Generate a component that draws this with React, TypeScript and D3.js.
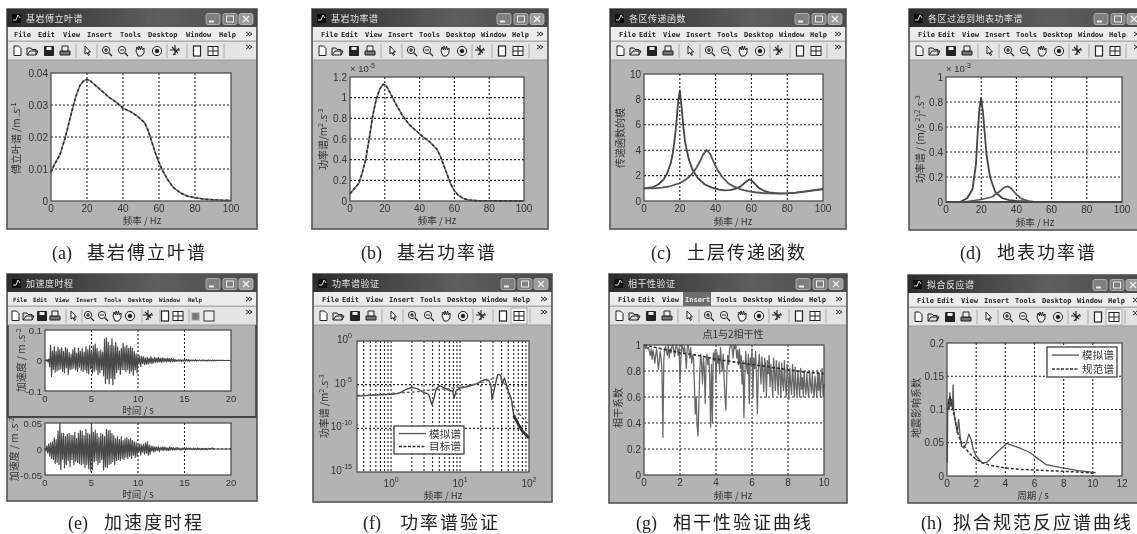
import React from "react";
import * as d3 from "d3";

// ---------- data ----------
const freqA = [0,2,5,8,10,12,14,16,18,20,22,25,28,32,36,40,44,48,52,54,56,58,60,62,65,68,72,76,80,85,90,95,100];
const fourier = [.009,.0115,.0145,.02,.0245,.029,.033,.036,.0375,.038,.0375,.036,.0345,.0325,.031,.029,.028,.0265,.0245,.022,.0185,.015,.012,.0095,.0065,.0042,.0025,.0015,.001,.0006,.0004,.00025,.0002];
const freqB = [0,2,5,7,9,11,13,15,17,19,21,23,26,30,34,38,42,46,50,52,54,56,58,60,62,65,68,72,80,100];
const bedrockPower = [.07,.11,.17,.27,.4,.6,.82,.98,1.08,1.13,1.11,1.05,.95,.83,.74,.68,.62,.57,.5,.43,.34,.25,.16,.1,.06,.025,.01,.004,.002,.001];

const freqC1 = [0,5,8,11,13,15,16,17,18,19,20,21,22,23,25,27,30,34,38,42,45,48,51,54,56,58,59,60,62,64,67,70,75,80,85,90,95,100];
const transfer1 = [1,1.1,1.3,1.7,2.2,3,3.7,4.7,6,7.7,8.7,7.4,5.8,4.6,3.3,2.5,1.8,1.3,1.05,.9,.84,.86,.95,1.15,1.4,1.62,1.7,1.62,1.35,1.05,.8,.68,.6,.6,.66,.76,.86,.95];
const freqC2 = [0,5,10,15,20,24,27,29,31,33,35,37,39,41,44,47,50,54,58,62,66,70,75,80,85,90,95,100];
const transfer2 = [1,1,1.06,1.18,1.4,1.75,2.15,2.55,3.05,3.65,4.02,3.7,3.05,2.45,1.85,1.4,1.15,.92,.78,.69,.63,.6,.58,.6,.66,.74,.84,.92];

const freqD1 = [8,12,15,17,18,19,20,21,22,23,25,28,32,36,40,50];
const surface1 = [0,.03,.1,.3,.55,.75,.83,.72,.55,.38,.2,.08,.03,.015,.008,0];
const freqD2 = [10,20,26,30,33,35,37,40,43,47,50];
const surface2 = [0,.02,.04,.08,.115,.125,.11,.06,.025,.008,.002];
const freqD0 = [0,100];
const surface0 = [0,0];

const accelStep = 0.1;
const accelTop = [
.001,-.002,.003,-.004,.005,-.02,.05,-.052,.032,-.03,
.046,-.038,.03,-.034,.044,-.03,.036,-.028,.042,-.036,
.03,-.04,.042,-.024,.038,-.046,.026,-.03,.02,-.028,
.036,-.025,.042,-.03,.024,-.036,.04,-.022,.03,-.032,
.04,-.036,.028,-.03,.046,-.04,.036,-.044,.05,-.028,
.03,-.042,.048,-.036,.054,-.03,.04,-.046,.03,-.04,
.034,-.03,.028,-.05,.07,-.075,.074,-.06,.06,-.076,
.05,-.058,.072,-.08,.048,-.06,.06,-.04,.044,-.03,
.032,-.046,.04,-.03,.056,-.03,.045,-.036,.05,-.03,
.04,-.042,.046,-.035,.04,-.048,.03,-.03,.022,-.04,
.016,-.012,.015,-.02,.014,-.01,.012,-.014,.008,-.012,
.01,-.012,.008,-.009,.012,-.01,.007,-.008,.01,-.006,
.008,-.006,.01,-.005,.007,-.006,.009,-.005,.008,-.004,
.006,-.005,.008,-.004,.006,-.005,.007,-.003,.006,-.004,
.003,-.003,.002,-.002,.003,-.002,.002,-.003,.002,-.002,
.003,-.002,.004,-.002,.003,-.003,.002,-.001,.002,-.001,
.002,-.001,.003,-.002,.001,-.001,.002,-.001,.001,-.001,
.002,-.001,.001,-.002,.001,-.001,.002,-.001,.001,-.001,
.001,-.001,.002,-.001,.001,-.001,.001,0,.001,0,
.001,0,.001,0,0,0,.001,0,0,0,0];
const accelBottom = [
.002,-.004,.006,-.008,.01,-.014,.012,-.018,.014,-.02,
.022,-.028,.018,-.026,.035,-.03,.05,-.04,.03,-.02,
.03,-.036,.024,-.03,.028,-.022,.03,-.034,.026,-.02,
.026,-.03,.032,-.024,.02,-.026,.03,-.028,.036,-.03,
.034,-.028,.026,-.036,.038,-.03,.03,-.038,.028,-.042,
.046,-.04,.032,-.024,.036,-.022,.03,-.03,.022,-.026,
.03,-.02,.028,-.04,.024,-.034,.038,-.036,.035,-.03,
.036,-.028,.03,-.024,.026,-.03,.02,-.022,.024,-.02,
.018,-.022,.024,-.018,.016,-.02,.02,-.016,.022,-.018,
.018,-.014,.02,-.018,.016,-.012,.014,-.016,.012,-.014,
.008,-.006,.01,-.012,.008,-.006,.009,-.01,.012,-.008,
.014,-.012,.008,-.01,.006,-.004,.005,-.006,.004,-.004,
.004,-.003,.004,-.005,.003,-.002,.004,-.003,.004,-.002,
.003,-.003,.002,-.003,.004,-.002,.003,-.002,.003,-.002,
.002,-.002,.003,-.001,.002,-.002,.001,-.002,.002,-.001,
.003,-.002,.002,-.001,.002,-.001,.002,-.001,.001,-.001,
.002,-.001,.001,-.001,.002,-.001,.001,-.001,.001,-.001,
.001,-.001,.001,-.001,.001,-.001,.001,0,.001,0,
.002,-.001,.001,0,0,0,0,0,0,0,
0,0,0,0,0,0,0,0,0,0,0];

const freqF1 = [.32,.5,.7,1,1.3,1.6,2,2.5,3,3.5,3.9,4.2,4.5,5,6,7,7.8,8.2,8.8,10,13,17,20,24,26,28,29,31,35,37,39,41,44,47,50,55,60,70,80,100];
const simulatedPower = [5e-7,6e-7,7e-7,8e-7,1e-6,2.5e-6,5e-6,3e-6,1.2e-6,8e-7,5e-8,3e-7,3e-6,8e-6,4e-6,2e-6,2e-6,3e-7,2e-6,4e-6,6e-6,1.2e-5,2.5e-5,4e-5,3e-5,1e-5,2e-7,2e-6,1.3e-4,1.5e-4,1e-4,1.2e-5,6e-5,1e-5,2e-6,3e-7,3e-9,3e-10,5e-11,8e-12];
const freqF3 = [60,70,80,100];
const simulatedTail = [3e-9,3e-10,5e-11,8e-12];
const freqF2 = [.32,.6,1,2,3,5,7,10,15,20,25,30,35,40,45,50,60,75,100];
const targetPower = [6e-7,7e-7,1e-6,1.4e-6,2e-6,3e-6,3.5e-6,5e-6,1e-5,1.6e-5,3e-5,5e-5,6e-5,4e-5,1e-5,1e-6,4e-8,3e-9,2.5e-10];

const cohStep = 0.05;
const coherence = [
1,.99,.97,.99,.97,.98,.95,.92,.97,.89,
.96,.92,.86,.92,.97,.9,.81,.88,.95,.9,
.8,.29,.88,.97,.99,.95,.92,1,.9,.97,
.94,.99,1,.96,.91,.98,1,.97,.92,.98,
.72,.9,1,.98,.94,.99,.93,.82,.97,1,
.96,.9,.98,.86,.92,.9,.7,.47,.6,.38,
.3,.55,.8,.93,.86,.7,.9,.82,.55,.88,
.93,.85,.9,.76,.37,.85,.4,.94,.88,.96,
.72,.95,.86,.92,.78,.98,.88,.8,.93,.75,
.6,.5,.78,.92,.85,.96,1,1,.97,.9,
1,.97,1,.9,.96,.85,.97,.82,.92,.7,
.88,.44,.75,.95,.84,.78,.93,.55,.9,.84,
.97,.6,.9,.82,.95,.75,.47,.8,.93,.85,
.7,.91,.8,.64,.9,.85,.6,.88,.78,.92,
.68,.85,.75,.6,.9,.8,.65,.88,.75,.62,
.87,.78,.6,.86,.72,.65,.88,.7,.6,.85,
.75,.58,.82,.7,.62,.85,.72,.6,.83,.68,
.6,.8,.7,.6,.82,.66,.75,.6,.8,.68,
.62,.78,.66,.6,.8,.7,.63,.78,.65,.6,
.76,.68,.6,.8,.65,.78,.6,.72,.82,.6,.7];
const freqG2 = [0,1,2,3,4,5,6,7,8,9,10];
const targetCoh = [1,.97,.94,.92,.89,.87,.85,.83,.81,.79,.78];

const periodH1 = [.02,.05,.1,.15,.2,.25,.3,.38,.42,.46,.55,.7,.8,.9,1,1.15,1.3,1.5,1.65,1.8,2,2.4,2.7,3.4,4.1,5,5.7,6.8,8,9,10.2];
const simulatedResp = [.02,.1,.115,.1,.125,.105,.115,.1,.137,.1,.085,.065,.085,.06,.045,.042,.048,.063,.055,.04,.03,.02,.02,.035,.049,.042,.035,.017,.012,.008,.005];
const periodH2 = [.05,.2,.4,.6,.8,1,1.5,2,2.5,3,4,5,6,7,8,9,10.2];
const codeResp = [.1,.12,.1,.08,.06,.05,.035,.025,.019,.016,.012,.01,.009,.008,.007,.006,.004];

const ticksFreq100 = [0,20,40,60,80,100];
const ticksTime = [0,5,10,15,20];
const ticksFreq10 = [0,2,4,6,8,10];
const ticksPeriod = [0,2,4,6,8,10,12];
const ticksA = [0,.01,.02,.03,.04];
const ticksB = [0,.2,.4,.6,.8,1,1.2];
const ticksC = [0,2,4,6,8,10];
const ticksD = [0,.2,.4,.6,.8,1];
const ticksG = [0,.2,.4,.6,.8,1];
const ticksH = [0,.05,.1,.15,.2];
const ticksETop = [-.1,0,.1];
const ticksEBottom = [-.05,0,.05];
const decadesX = [0,1,2];
const decadesY = [0,-5,-10,-15];

const menuItems = ["File","Edit","View","Insert","Tools","Desktop","Window","Help"];

// ---------- styles ----------
const SANS = "'Liberation Sans', Arial, sans-serif";
const CJK = "'Noto Sans CJK SC', sans-serif";
const INK = "#333";
const seq = (vals: number[], step: number) => vals.map((_, i) => i * step);

type Series = { x: number[]; y: number[]; stroke: string; w: number; dash?: string };

const solid = (x: number[], y: number[], stroke = "#555", w = 1.5): Series => ({ x, y, stroke, w });
const dashed = (x: number[], y: number[], stroke = "#2e2e2e", w = 1.5): Series => ({ x, y, stroke, w, dash: "3 2" });

function Axes(p: {
  box: [number, number, number, number];
  xd: [number, number]; yd: [number, number];
  xt: number[]; yt: number[]; series: Series[];
  log?: boolean; tickSize?: number;
}) {
  const [l, t, r, b] = p.box;
  const x = p.log ? d3.scaleLog().domain(p.xd).range([l, r]) : d3.scaleLinear().domain(p.xd).range([l, r]);
  const y = p.log ? d3.scaleLog().domain(p.yd).range([b, t]) : d3.scaleLinear().domain(p.yd).range([b, t]);
  const fs = p.tickSize ?? 10;
  const xMinor: number[] = [];
  if (p.log) {
    for (const dec of [-1, 0, 1]) for (let m = 1; m <= 9; m++) {
      const v = m * 10 ** dec;
      if (v >= p.xd[0] && v < p.xd[1]) xMinor.push(v);
    }
  }
  const xs = p.log ? xMinor : p.xt;
  return (
    <g>
      <rect x={l} y={t} width={r - l} height={b - t} fill="#fff" />
      {xs.map((v, i) => (x(v) > l + 1 && x(v) < r - 1) ? (
        <line key={"gx" + i} x1={x(v)} x2={x(v)} y1={t} y2={b} stroke="#222" strokeWidth={1.1} strokeDasharray="2 2" />
      ) : null)}
      {p.yt.map((v, i) => {
        const val = p.log ? 10 ** v : v;
        return (y(val) > t + 1 && y(val) < b - 1) ? (
          <line key={"gy" + i} x1={l} x2={r} y1={y(val)} y2={y(val)} stroke="#222" strokeWidth={1.1} strokeDasharray="2 2" />
        ) : null;
      })}
      {p.series.map((s, i) => {
        const d = d3.line<number>().x((_, k) => x(s.x[k])).y((_, k) => y(s.y[k]))(s.y) ?? "";
        return <path key={i} d={d} fill="none" stroke={s.stroke} strokeWidth={s.w} strokeDasharray={s.dash} strokeLinejoin="round" />;
      })}
      <rect x={l} y={t} width={r - l} height={b - t} fill="none" stroke="#444" strokeWidth={1.2} />
      {p.log ? (
        <>
          {p.xt.map(e => (
            <text key={e} x={x(10 ** e)} y={b + 15} textAnchor="middle" fontFamily={SANS} fontSize={10} fill={INK}>
              10<tspan dy={-5} fontSize={7}>{e}</tspan>
            </text>
          ))}
          {p.yt.map(e => (
            <text key={e} x={l - 5} y={y(10 ** e) + 2} textAnchor="end" fontFamily={SANS} fontSize={10} fill={INK}>
              10<tspan dy={-5} fontSize={7}>{e}</tspan>
            </text>
          ))}
        </>
      ) : (
        <>
          {p.xt.map(v => (
            <text key={v} x={x(v)} y={b + 11} textAnchor="middle" fontFamily={SANS} fontSize={fs} fill={INK}>{v}</text>
          ))}
          {p.yt.map(v => (
            <text key={v} x={l - 3} y={y(v) + 3.5} textAnchor="end" fontFamily={SANS} fontSize={fs} fill={INK}>{v}</text>
          ))}
        </>
      )}
    </g>
  );
}

function Icons(p: { wx: number; y: number; xs: number[]; hi?: boolean; extra?: boolean }) {
  const X = p.xs;
  const c = "#222";
  const at = (i: number) => `translate(${p.wx + X[i]},${p.y})`;
  return (
    <g fill="none" stroke={c} strokeWidth={1}>
      <g transform={at(0)}><path d="M-3,-5 L1.5,-5 L4,-2.5 L4,4.5 L-3,4.5 Z" fill="#fff" /></g>
      <g transform={at(1)}><path d="M-5,4 L-5,-3 L-1,-3 L0,-1.5 L4,-1.5 L4,4 Z M-5,4 L-2,0 L6,0 L4,4" fill="#ddd" /></g>
      <g transform={at(2)}><path d="M-4.5,-4.5 H4.5 V4.5 H-4.5 Z" fill={c} /><rect x={-2.5} y={-4} width={5} height={3} fill="#eee" stroke="none" /></g>
      <g transform={at(3)}><path d="M-5,0 H5 V4 H-5 Z" fill="#777" /><path d="M-3,-5 H3 V0 H-3 Z" fill="#eee" /></g>
      <line x1={p.wx + X[4]} x2={p.wx + X[4]} y1={p.y - 7} y2={p.y + 7} stroke="#aaa" />
      <g transform={at(5)}><path d="M-2,-5 L-2,3 L0,1.5 L1.5,4.5 L2.5,4 L1,1 L3.5,1 Z" fill="#fff" /></g>
      <line x1={p.wx + X[6]} x2={p.wx + X[6]} y1={p.y - 7} y2={p.y + 7} stroke="#aaa" />
      <g transform={at(7)}><circle cx={-1} cy={-1} r={3.6} fill="#eee" /><path d="M2,2 L5,5 M-3,-1 H1 M-1,-3 V1" strokeWidth={1.2} /></g>
      <g transform={at(8)}><circle cx={-1} cy={-1} r={3.6} fill="#eee" /><path d="M2,2 L5,5 M-3,-1 H1" strokeWidth={1.2} /></g>
      <g transform={at(9)}><path d="M-4,0 L-3,-4 L-1.5,-1 L-1,-5 L0.5,-1 L1.5,-5 L2.5,-1 L4,-3 L4,2 L1.5,5 L-2,5 Z" fill="#eee" /></g>
      <g transform={at(10)}><circle r={4.6} fill="#eee" /><circle r={1.8} fill={c} /></g>
      <line x1={p.wx + X[11]} x2={p.wx + X[11]} y1={p.y - 7} y2={p.y + 7} stroke="#aaa" />
      <g transform={at(12)}><path d="M-5,-1 H5 M0,-6 V4 M-3,-4 L3,2 M-2,4 L4,-3" strokeWidth={1.1} /></g>
      <line x1={p.wx + X[13]} x2={p.wx + X[13]} y1={p.y - 7} y2={p.y + 7} stroke="#aaa" />
      <g transform={at(14)}><rect x={-3.5} y={-5} width={7} height={10} fill="#fff" strokeWidth={1.2} /></g>
      {p.hi ? <rect x={p.wx + X[15] - 8} y={p.y - 8} width={16} height={16} fill="#f4f4f4" stroke="#aaa" /> : null}
      <g transform={at(15)}><rect x={-5} y={-4.5} width={10} height={9} fill="#fff" /><path d="M0,-4.5 V4.5 M-5,0 H5" /></g>
      {X.length > 16 ? (
        <line x1={p.wx + X[16]} x2={p.wx + X[16]} y1={p.y - 7} y2={p.y + 7} stroke="#aaa" />
      ) : null}
      {p.extra ? (
        <>
          <rect x={p.wx + 185} y={p.y - 3} width={7} height={7} fill="#777" stroke="#999" />
          <rect x={p.wx + 197} y={p.y - 5} width={10} height={10} fill="#eee" stroke="#333" />
        </>
      ) : null}
    </g>
  );
}

const MENU_X_A = [7, 31, 56, 80, 113, 141, 179, 212];
const MENU_X = [9, 29, 53, 76, 107, 134, 169, 200];
const MENU_X_E = [6, 26, 48, 69, 97, 121, 152, 181];
const ICON_X = [10, 25, 42, 58, 69, 80, 90, 100, 116, 133, 150, 160, 168, 180, 190, 206, 217];
const ICON_X_E = [8, 21, 35, 48, 59, 66, 75, 82, 96, 110, 123, 135, 141, 153, 158, 171, 182];

function Win(p: {
  x: number; y: number; w: number; h: number; title: string;
  menuX?: number[]; iconX?: number[]; menuSize?: number; hiInsert?: boolean; hiPanel?: boolean; extra?: boolean; children?: React.ReactNode;
}) {
  const id = "tb" + p.x + "_" + p.y;
  const menuX = p.menuX ?? MENU_X;
  const R = p.x + p.w;
  return (
    <g>
      <rect x={p.x} y={p.y} width={p.w} height={p.h} fill="#b3b3b3" stroke="#555" strokeWidth={1.6} />
      <linearGradient id={id} x1="0" y1="0" x2="1" y2="0">
        <stop offset="0" stopColor="#2c2c2c" />
        <stop offset="0.6" stopColor="#5e5e5e" />
        <stop offset="1" stopColor="#4a4a4a" />
      </linearGradient>
      <rect x={p.x} y={p.y} width={p.w} height={18} fill={`url(#${id})`} />
      <rect x={p.x + 5} y={p.y + 5} width={9} height={9} fill="#111" />
      <path d={`M${p.x + 6},${p.y + 11} L${p.x + 9},${p.y + 11} L${p.x + 11},${p.y + 6} L${p.x + 13},${p.y + 9}`} stroke="#ddd" fill="none" strokeWidth={1} />
      <text x={p.x + 19} y={p.y + 13} fontFamily={CJK} fontSize={9} letterSpacing={0.5} fill="#e2e2e2">{p.title}</text>
      {[[51, 14], [34, 14], [18, 14]].map(([o, bw], i) => (
        <g key={i}>
          <rect x={R - o} y={p.y + 4.5} width={bw} height={11} rx={2} fill={i === 2 ? "#9a9a9a" : "#7f7f7f"} stroke="#ccc" strokeWidth={0.7} />
          {i === 0 ? <rect x={R - o + 3} y={p.y + 11.5} width={5} height={2} fill="#eee" /> : null}
          {i === 1 ? <rect x={R - o + 3.5} y={p.y + 7} width={7} height={6} fill="none" stroke="#eee" /> : null}
          {i === 2 ? <path d={`M${R - o + 4},${p.y + 7} l6,6 m0,-6 l-6,6`} stroke="#f2f2f2" strokeWidth={1.3} /> : null}
        </g>
      ))}
      <rect x={p.x + 1} y={p.y + 18} width={p.w - 2} height={14} fill="#ececec" />
      <line x1={p.x + 1} x2={R - 1} y1={p.y + 32} y2={p.y + 32} stroke="#aaa" />
      {p.hiInsert ? <rect x={p.x + menuX[3] - 2} y={p.y + 18} width={28} height={14} fill="#6d6d6d" /> : null}
      {menuItems.map((m, i) => (
        <text key={m} x={p.x + menuX[i]} y={p.y + 28} fontFamily="'DejaVu Sans Mono', monospace" fontWeight="bold" fontSize={p.menuSize ?? 7} fill={p.hiInsert && i === 3 ? "#eee" : "#222"}>{m}</text>
      ))}
      <path d={`M${R - 11},${p.y + 23} l3,2 l-3,2 M${R - 8},${p.y + 23} l3,2 l-3,2`} fill="none" stroke="#222" strokeWidth={1} />
      <rect x={p.x + 1} y={p.y + 33} width={p.w - 2} height={18} fill="#e4e4e4" />
      <line x1={p.x + 1} x2={R - 1} y1={p.y + 51} y2={p.y + 51} stroke="#999" />
      <Icons wx={p.x} y={p.y + 42} xs={p.iconX ?? ICON_X} hi={p.hiPanel} extra={p.extra} />
      <path d={`M${R - 11},${p.y + 36} l3,2 l-3,2 M${R - 8},${p.y + 36} l3,2 l-3,2`} fill="none" stroke="#222" strokeWidth={1} />
      {p.children}
    </g>
  );
}

function XLabel({ x, y, children }: { x: number; y: number; children: React.ReactNode }) {
  return <text x={x} y={y + 4.5} textAnchor="middle" fontFamily={CJK} fontSize={9.5} fill={INK}>{children}</text>;
}
function YLabel({ x, y, children }: { x: number; y: number; children: React.ReactNode }) {
  return <text transform={`translate(${x + 4},${y}) rotate(-90)`} textAnchor="middle" fontFamily={CJK} fontSize={10} fill={INK}>{children}</text>;
}
const Sup = ({ t }: { t: string }) => <><tspan dy={-4} fontSize={7}>{t}</tspan><tspan dy={4}>{"\u200a"}</tspan></>;

function Caption(p: { a: string; ax: number; cx: number; y: number; text: string; sp: number }) {
  return (
    <g fill="#222">
      <text x={p.ax} y={p.y} fontFamily="'Liberation Serif', serif" fontSize={18}>{p.a}</text>
      <text x={p.cx} y={p.y} fontFamily={CJK} fontSize={18} letterSpacing={p.sp}>{p.text}</text>
    </g>
  );
}

function Legend(p: { x: number; y: number; w: number; h: number; solidLabel: string; dashLabel: string; lineLen: number; pad: number }) {
  return (
    <g>
      <rect x={p.x} y={p.y} width={p.w} height={p.h} fill="#fff" stroke="#333" strokeWidth={1.2} />
      <line x1={p.x + p.pad} x2={p.x + p.pad + p.lineLen} y1={p.y + p.h * 0.27} y2={p.y + p.h * 0.27} stroke="#555" strokeWidth={1.3} />
      <line x1={p.x + p.pad} x2={p.x + p.pad + p.lineLen} y1={p.y + p.h * 0.73} y2={p.y + p.h * 0.73} stroke="#333" strokeWidth={1.5} strokeDasharray="3 1.5" />
      <text x={p.x + p.pad + p.lineLen + 3} y={p.y + p.h * 0.27 + 4} fontFamily={CJK} fontSize={10.5} letterSpacing={0.3} fill={INK}>{p.solidLabel}</text>
      <text x={p.x + p.pad + p.lineLen + 3} y={p.y + p.h * 0.73 + 4} fontFamily={CJK} fontSize={10.5} letterSpacing={0.3} fill={INK}>{p.dashLabel}</text>
    </g>
  );
}

export default function App() {
  return (
    <svg width={1137} height={534} viewBox="0 0 1137 534" style={{ position: "absolute", left: 0, top: 0, background: "#fff", overflow: "hidden" }}>
      <defs>
        <filter id="soft" x="0" y="0" width="100%" height="100%" filterUnits="objectBoundingBox">
          <feGaussianBlur stdDeviation="0.6" />
        </filter>
      </defs>
      <g filter="url(#soft)">
        <rect x={0} y={0} width={1137} height={534} fill="#fff" />

        {/* (a) */}
        <Win x={7} y={9} w={250} h={220} title="基岩傅立叶谱" menuX={MENU_X_A}>
          <Axes box={[51, 73, 231, 201]} xd={[0, 100]} yd={[0, .04]} xt={ticksFreq100} yt={ticksA}
            series={[solid(freqA, fourier, "#777", 1.6), dashed(freqA, fourier)]} />
          <XLabel x={142} y={219}>频率 / Hz</XLabel>
          <YLabel x={16} y={138}>傅立叶谱 /m .s<Sup t="-1" /></YLabel>
        </Win>
        <Caption a="(a)" ax={52} cx={87} y={259} text="基岩傅立叶谱" sp={2} />

        {/* (b) */}
        <Win x={312} y={9} w={236} h={220} title="基岩功率谱">
          <Axes box={[350, 77, 524, 201]} xd={[0, 100]} yd={[0, 1.2]} xt={ticksFreq100} yt={ticksB}
            series={[solid(freqB, bedrockPower, "#777", 1.6), dashed(freqB, bedrockPower)]} />
          <text x={350} y={72} fontFamily={SANS} fontSize={9.5} fill={INK}>× 10<tspan dy={-4} fontSize={7}>-5</tspan></text>
          <XLabel x={437} y={219}>频率 / Hz</XLabel>
          <YLabel x={323} y={139}>功率谱/m<Sup t="2" />.s<Sup t="-3" /></YLabel>
        </Win>
        <Caption a="(b)" ax={361} cx={397} y={259} text="基岩功率谱" sp={2} />

        {/* (c) */}
        <Win x={610} y={9} w={236} h={220} title="各区传递函数">
          <Axes box={[644, 74, 823, 201]} xd={[0, 100]} yd={[0, 10]} xt={ticksFreq100} yt={ticksC}
            series={[solid(freqC1, transfer1, "#444", 1.8), solid(freqC2, transfer2, "#555", 1.8)]} />
          <XLabel x={733} y={220}>频率 / Hz</XLabel>
          <YLabel x={620} y={138}>传递函数的模</YLabel>
        </Win>
        <Caption a="(c)" ax={651} cx={687} y={259} text="土层传递函数" sp={2} />

        {/* (d) */}
        <Win x={909} y={9} w={236} h={221} title="各区过滤到地表功率谱">
          <Axes box={[946, 77, 1122, 202]} xd={[0, 100]} yd={[0, 1]} xt={ticksFreq100} yt={ticksD}
            series={[solid(freqD0, surface0, "#555", 1.8), solid(freqD1, surface1, "#444", 1.8), solid(freqD2, surface2, "#555", 1.7)]} />
          <text x={946} y={72} fontFamily={SANS} fontSize={9.5} fill={INK}>× 10<tspan dy={-4} fontSize={7}>-3</tspan></text>
          <XLabel x={1035} y={221}>频率 / Hz</XLabel>
          <YLabel x={920} y={139}>功率谱 / (m/s <Sup t="2" />)<Sup t="2" />.s<Sup t="-3" /></YLabel>
        </Win>
        <Caption a="(d)" ax={960} cx={997} y={259} text="地表功率谱" sp={2} />

        {/* (e) */}
        <Win x={7} y={274} w={250} h={227} title="加速度时程" menuX={MENU_X_E} iconX={ICON_X_E} menuSize={5.8} extra>
          <path d="M8,325 V417 H256 V325" fill="none" stroke="#444" strokeWidth={1.6} />
          <Axes box={[45, 330, 231, 391]} xd={[0, 20]} yd={[-.1, .1]} xt={ticksTime} yt={ticksETop} tickSize={9.5}
            series={[solid(seq(accelTop, accelStep), accelTop, "#484848", 1.15)]} />
          <XLabel x={138} y={409}>时间 / s</XLabel>
          <YLabel x={21} y={360}>加速度 / m .s<Sup t="-2" /></YLabel>
          <line x1={8} x2={256} y1={417} y2={417} stroke="#444" strokeWidth={2} />
          <Axes box={[45, 423, 231, 475]} xd={[0, 20]} yd={[-.05, .05]} xt={ticksTime} yt={ticksEBottom} tickSize={9.5}
            series={[solid(seq(accelBottom, accelStep), accelBottom, "#484848", 1.15)]} />
          <XLabel x={138} y={493}>时间 / s</XLabel>
          <YLabel x={14} y={449}>加速度 / m .s<Sup t="-2" /></YLabel>
        </Win>
        <Caption a="(e)" ax={68} cx={104} y={529} text="加速度时程" sp={2} />

        {/* (f) */}
        <Win x={313} y={274} w={239} h={228} title="功率谱验证" hiPanel>
          <Axes box={[357, 341, 529, 472]} xd={[.32, 100]} yd={[1e-15, 1]} xt={decadesX} yt={decadesY} log
            series={[solid(freqF1, simulatedPower, "#444", 1.3), solid(freqF3, simulatedTail, "#333", 2.8), dashed(freqF2, targetPower, "#666", 1.3)]} />
          <Legend x={394} y={426} w={70} h={28} solidLabel="模拟谱" dashLabel="目标谱" lineLen={27} pad={5} />
          <XLabel x={443} y={494}>频率 / Hz</XLabel>
          <YLabel x={324} y={406}>功率谱 /m<Sup t="2" />.s<Sup t="-3" /></YLabel>
        </Win>
        <Caption a="(f)" ax={363} cx={400} y={529} text="功率谱验证" sp={2} />

        {/* (g) */}
        <Win x={609} y={274} w={238} h={229} title="相干性验证" hiInsert>
          <Axes box={[644, 345, 824, 475]} xd={[0, 10]} yd={[0, 1]} xt={ticksFreq10} yt={ticksG}
            series={[solid(seq(coherence, cohStep), coherence, "#666", 1.25), dashed(freqG2, targetCoh, "#333", 1.7)]} />
          <text x={733} y={338} textAnchor="middle" fontFamily={CJK} fontSize={10} fill={INK}>点1与2相干性</text>
          <XLabel x={733} y={494}>频率 / Hz</XLabel>
          <YLabel x={618} y={408}>相干系数</YLabel>
        </Win>
        <Caption a="(g)" ax={636} cx={673} y={529} text="相干性验证曲线" sp={2} />

        {/* (h) */}
        <Win x={908} y={275} w={236} h={228} title="拟合反应谱" hiPanel>
          <Axes box={[947, 343, 1122, 476]} xd={[0, 12]} yd={[0, .2]} xt={ticksPeriod} yt={ticksH}
            series={[solid(periodH1, simulatedResp, "#555", 1.3), dashed(periodH2, codeResp, "#333", 1.5)]} />
          <Legend x={1047} y={347} w={70} h={30} solidLabel="模拟谱" dashLabel="规范谱" lineLen={27} pad={5} />
          <XLabel x={1033} y={494}>周期 / s</XLabel>
          <YLabel x={916} y={408}>地震影响系数</YLabel>
        </Win>
        <Caption a="(h)" ax={921} cx={953} y={529} text="拟合规范反应谱曲线" sp={2} />
      </g>
    </svg>
  );
}
